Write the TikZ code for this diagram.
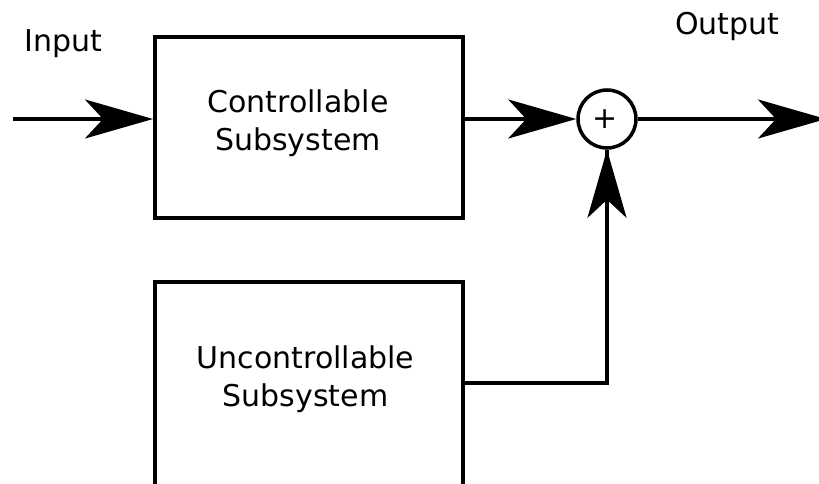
\documentclass[tikz,border=0pt]{standalone}
\usepackage{fontspec}
\setmainfont{DejaVu Sans}
\usetikzlibrary{arrows.meta}
\begin{document}
\begin{tikzpicture}[x=1pt,y=-1pt,
  blockbox/.style={draw=black,line width=4pt,minimum width=308pt,inner sep=0pt},
  label/.style={font=\fontsize{30}{38}\selectfont,align=center,inner sep=0pt},
  sumnode/.style={circle,draw=black,line width=3.5pt,minimum size=58pt,inner sep=0pt},
  signal/.style={line width=3.5pt,-{Stealth[length=68pt,width=39pt,inset=18pt]}},
  wire/.style={line width=3.5pt}]
  \useasboundingbox (0,0) rectangle (819,484);
  \clip (0,0) rectangle (819,484);
  \fill[white] (0,0) rectangle (819,484);

  % blocks
  \node[blockbox,minimum height=181pt] (ctrl) at (309,127.5) {};
  \node[label] (ctrltext) at (298,123) {Controllable\\Subsystem};
  \node[blockbox,minimum height=208pt] (unc) at (309,386) {};
  \node[label] (unctext) at (305.5,379.5) {Uncontrollable\\Subsystem};

  % summing junction
  \node[sumnode] (sum) at (607,119) {};
  \node[label] (plus) at (605,119) {+};

  % signal labels
  \node[label,anchor=base west] (inlabel) at (24,52) {Input};
  \node[label,anchor=base west] (outlabel) at (675,35) {Output};

  % connectors (the signal path runs level with the junction centre)
  \coordinate (src) at (13,119);
  \coordinate (sink) at (826,119);
  \draw[signal] (src) -- (src -| ctrl.west);
  \draw[signal] (sum.west -| ctrl.east) -- (sum.west);
  \draw[signal] (sum.east) -- (sink);
  \draw[wire] ([yshift=3pt]unc.east) -| (sum.south);
  \draw[signal] ([yshift=-68pt]sum.south) -- (sum.south);
\end{tikzpicture}
\end{document}
